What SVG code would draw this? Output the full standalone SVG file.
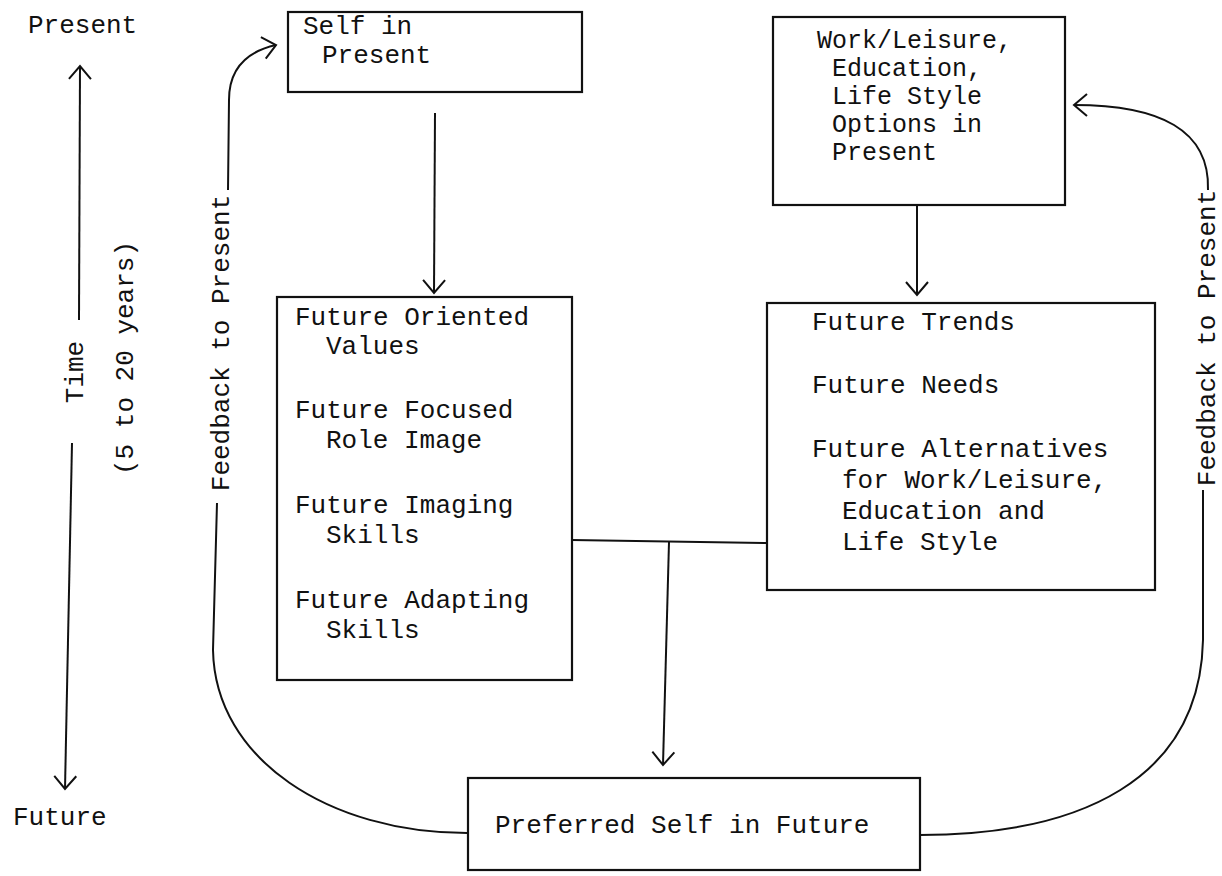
<svg xmlns="http://www.w3.org/2000/svg" width="1222" height="876" viewBox="0 0 1222 876">
<style>
text{font-family:"Liberation Mono","DejaVu Sans Mono",monospace;font-size:26px;fill:#111}
.sm{font-size:25px}
.box{fill:none;stroke:#111;stroke-width:2.2}
.ln{fill:none;stroke:#111;stroke-width:2}
</style>
<defs>
<marker id="ah" viewBox="-15 -13 17 26" refX="0" refY="0" markerWidth="17" markerHeight="26" markerUnits="userSpaceOnUse" orient="auto">
<path d="M-13,-11 L0,0 L-13,11" fill="none" stroke="#111" stroke-width="2"/>
</marker>
</defs>
<rect width="1222" height="876" fill="#fff"/>
<g id="axis">
<text x="28" y="33">Present</text>
<text x="13" y="825">Future</text>
<text transform="translate(83,372) rotate(-90)" text-anchor="middle">Time</text>
<text transform="translate(133,358) rotate(-90)" text-anchor="middle">(5 to 20 years)</text>
</g>
<g id="self-present">
<rect class="box" x="288" y="12" width="294" height="80"/>
<text x="303" y="34">Self in</text>
<text x="322" y="63">Present</text>
</g>
<g id="options-present">
<rect class="box" x="773" y="17" width="292" height="188"/>
<text class="sm" x="817" y="48">Work/Leisure,</text>
<text class="sm" x="832" y="76">Education,</text>
<text class="sm" x="832" y="104">Life Style</text>
<text class="sm" x="832" y="132">Options in</text>
<text class="sm" x="832" y="160">Present</text>
</g>
<g id="future-self">
<rect class="box" x="277" y="297" width="295" height="383"/>
<text x="295" y="325">Future Oriented</text>
<text x="326" y="354">Values</text>
<text x="295" y="418">Future Focused</text>
<text x="326" y="448">Role Image</text>
<text x="295" y="513">Future Imaging</text>
<text x="326" y="543">Skills</text>
<text x="295" y="608">Future Adapting</text>
<text x="326" y="638">Skills</text>
</g>
<g id="future-trends">
<rect class="box" x="767" y="303" width="388" height="287"/>
<text x="812" y="330">Future Trends</text>
<text x="812" y="393">Future Needs</text>
<text x="812" y="457">Future Alternatives</text>
<text x="842" y="488">for Work/Leisure,</text>
<text x="842" y="519">Education and</text>
<text x="842" y="550">Life Style</text>
</g>
<g id="preferred-self">
<rect class="box" x="468" y="778" width="452" height="92"/>
<text x="495" y="833">Preferred Self in Future</text>
</g>
<g id="labels">
<text transform="translate(229,343) rotate(-90)" text-anchor="middle">Feedback to Present</text>
<text transform="translate(1215,338) rotate(-90)" text-anchor="middle">Feedback to Present</text>
</g>
<g id="connectors">
<path class="ln" d="M79,320 L80,66" marker-end="url(#ah)"/>
<path class="ln" d="M72,443 L65,789" marker-end="url(#ah)"/>
<path class="ln" d="M435,113 L434,293" marker-end="url(#ah)"/>
<path class="ln" d="M917,205 L917,295" marker-end="url(#ah)"/>
<path class="ln" d="M572,540 L767,543"/>
<path class="ln" d="M669,542 L663,765" marker-end="url(#ah)"/>
<path class="ln" d="M228,190 L229,100 C229,70 245,52 276,45" marker-end="url(#ah)"/>
<path class="ln" d="M217,503 L213,650 C215,760 330,833 467,833"/>
<path class="ln" d="M920,835 C1080,835 1200,780 1203,640 L1203,490"/>
<path class="ln" d="M1208,190 C1210,130 1160,105 1074,105" marker-end="url(#ah)"/>
</g>
</svg>
